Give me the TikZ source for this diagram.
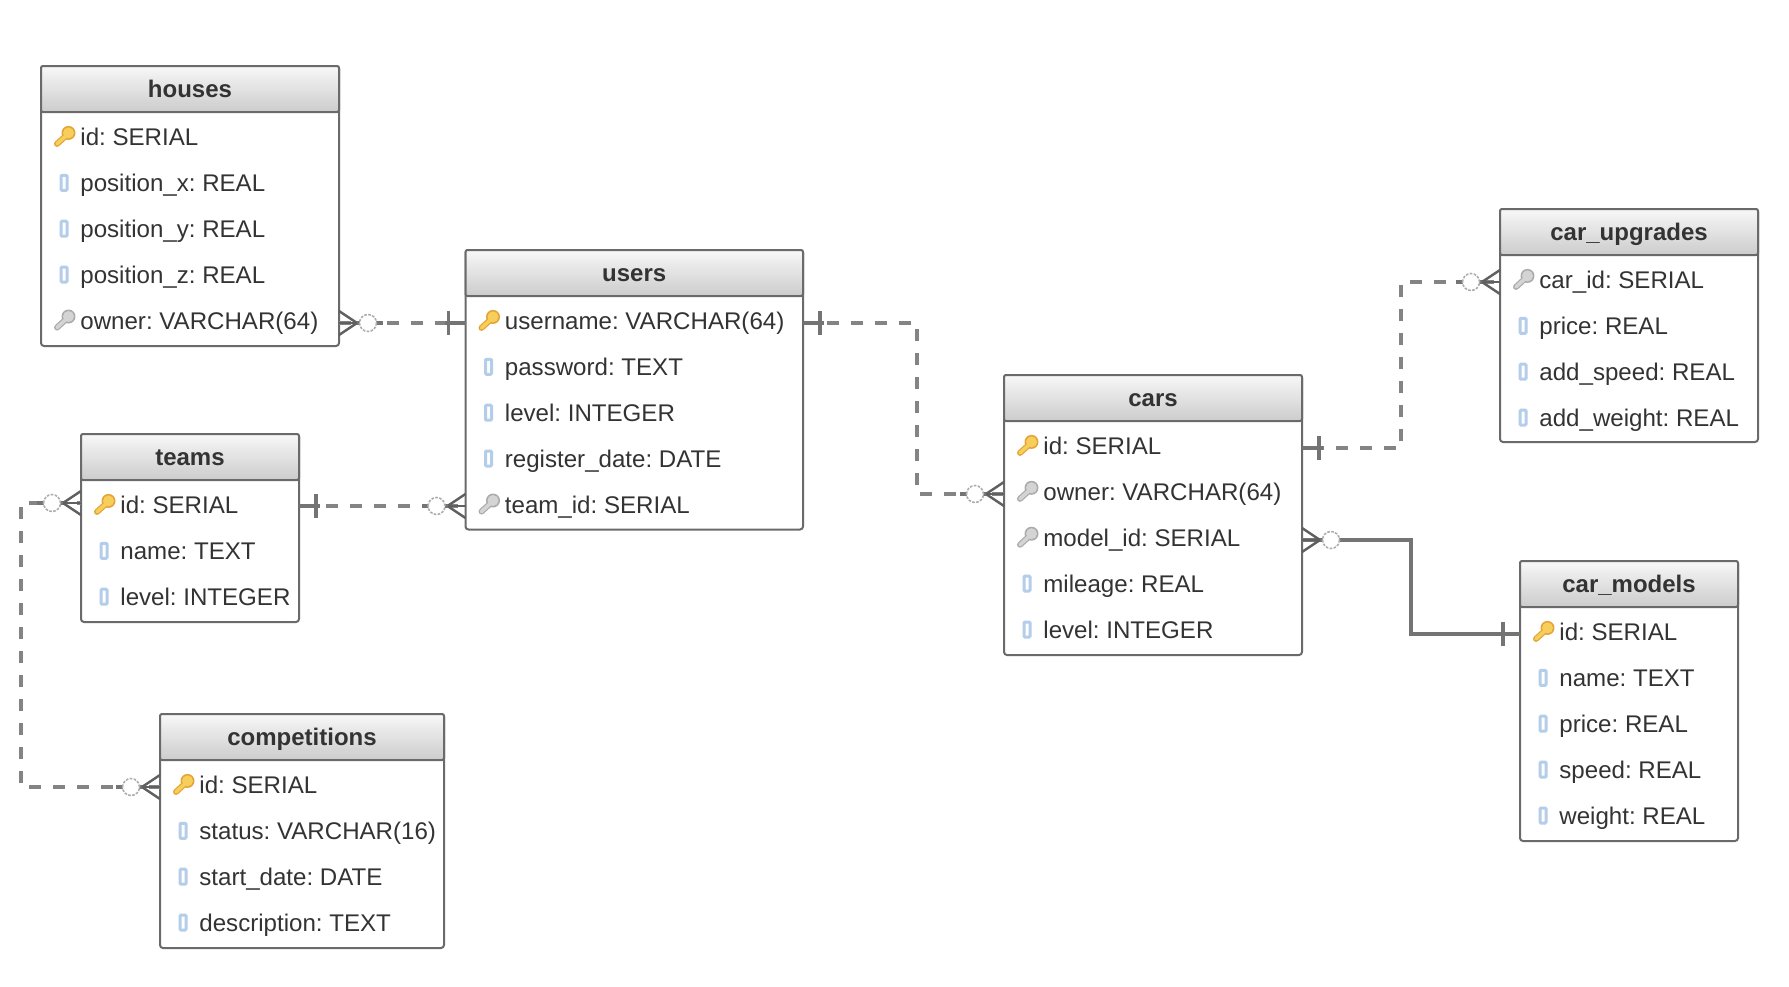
\documentclass[tikz,border=0pt]{standalone}
\usepackage{fontspec}
\setmainfont{Liberation Sans}
\frenchspacing
\definecolor{ink}{HTML}{333333}
\definecolor{edgec}{HTML}{6A6A6A}
\definecolor{linkc}{HTML}{848484}
\definecolor{endc}{HTML}{606060}
\definecolor{tickc}{HTML}{747474}
\definecolor{goldin}{HTML}{F7CE5A}
\definecolor{goldout}{HTML}{E3A437}
\definecolor{greyin}{HTML}{D4D4D4}
\definecolor{greyout}{HTML}{ABABAB}
\definecolor{colmark}{HTML}{B4CDEA}
\tikzset{
  x=0.5pt,y=-0.5pt,
  tablebox/.style={draw=edgec,line width=1pt,fill=white,rounded corners=1.5pt,inner sep=0pt,outer sep=0pt,anchor=north west},
  headbox/.style={draw=edgec,line width=1pt,top color=black!3,bottom color=black!20,rounded corners=1pt,inner sep=0pt,outer sep=0pt,anchor=north west},
  titletext/.style={font=\fontsize{12}{14}\selectfont\bfseries,text=ink,anchor=base,inner sep=0pt},
  rowtext/.style={font=\fontsize{12.05}{14}\selectfont,text=ink,anchor=base west,inner sep=0pt},
  dashlink/.style={draw=linkc,line width=1.7pt,dash pattern=on 6pt off 6pt},
  solidlink/.style={draw=tickc,line width=1.7pt},
  endline/.style={draw=endc,line width=1.2pt},
  tickline/.style={draw=tickc,line width=1.6pt},
  ringmark/.style={draw=black!32,fill=white,line width=0.8pt,dash pattern=on 1.3pt off 0.7pt},
  columnmark/.pic={
    \draw[draw=colmark,fill=white,line width=1.5pt,rounded corners=0.5pt] (-3,-7.5) rectangle (3,7.5);
  },
  goldkey/.pic={
    \draw[draw=goldout,line width=3pt,line cap=round] (4,-3) -- (-7,7);
    \fill[goldout] (4.5,-4) circle (7);
    \draw[draw=goldin,line width=1.8pt,line cap=round] (4,-3) -- (-7,7);
    \fill[goldin] (4.5,-4) circle (5.5);
  },
  greykey/.pic={
    \draw[draw=greyout,line width=3pt,line cap=round] (4,-3) -- (-7,7);
    \fill[greyout] (4.5,-4) circle (7);
    \draw[draw=greyin,line width=1.8pt,line cap=round] (4,-3) -- (-7,7);
    \fill[greyin] (4.5,-4) circle (5.5);
  },
  crowend/.pic={
    \draw[endline] (0,-12) -- (18,0) -- (0,12);
    \draw[endline] (0,0) -- (18,0);
    \draw[tickline] (18,0) -- (44,0);
    \draw[ringmark] (29,0) circle (8.5);
  },
  tickend/.pic={
    \draw[tickline] (0,0) -- (21,0);
    \draw[tickline] (17,-12) -- (17,12);
  },
}
% name, left, right, top, bottom, title, rows
\newcommand{\erdtable}[7]{
  \node[tablebox,minimum width=(#3-#2)*0.5pt,minimum height=(#5-#4)*0.5pt] (#1) at (#2,#4) {};
  \node[headbox,minimum width=(#3-#2)*0.5pt,minimum height=23pt] (#1-head) at (#2,#4) {};
  \node[titletext] (#1-title) at ({(#2+#3)/2},#4+31) {#6};
  \foreach \kind/\txt [count=\i] in {#7}{
    \node[rowtext] (#1-row\i) at (#2+39,#4+34+45.9*\i) {\txt};
    \pic at (#2+23,#4+25+45.9*\i) {\kind};
  }
}
\begin{document}
\begin{tikzpicture}
\path[fill=white,use as bounding box] (0,0) rectangle (1789,986);
\erdtable{houses}{41}{339}{66}{346}{houses}{goldkey/id: SERIAL,columnmark/position\_x: REAL,columnmark/position\_y: REAL,columnmark/position\_z: REAL,greykey/owner: VARCHAR(64)}
\erdtable{users}{465.5}{803}{250}{529.5}{users}{goldkey/username: VARCHAR(64),columnmark/password: TEXT,columnmark/level: INTEGER,columnmark/register\_date: DATE,greykey/team\_id: SERIAL}
\erdtable{teams}{81}{299}{434}{622}{teams}{goldkey/id: SERIAL,columnmark/name: TEXT,columnmark/level: INTEGER}
\erdtable{competitions}{160}{444}{714}{948}{competitions}{goldkey/id: SERIAL,columnmark/status: VARCHAR(16),columnmark/start\_date: DATE,columnmark/description: TEXT}
\erdtable{cars}{1004}{1302}{375}{655}{cars}{goldkey/id: SERIAL,greykey/owner: VARCHAR(64),greykey/model\_id: SERIAL,columnmark/mileage: REAL,columnmark/level: INTEGER}
\erdtable{upgrades}{1500}{1758}{209}{442}{car\_upgrades}{greykey/car\_id: SERIAL,columnmark/price: REAL,columnmark/add\_speed: REAL,columnmark/add\_weight: REAL}
\erdtable{models}{1520}{1738}{561}{841}{car\_models}{goldkey/id: SERIAL,columnmark/name: TEXT,columnmark/price: REAL,columnmark/speed: REAL,columnmark/weight: REAL}

\draw[dashlink] (houses.east |- 0,323) -- (users.west |- 0,323);
\draw[dashlink] (users.east |- 0,323) -- (917,323) -- (917,494) -- (cars.west |- 0,494);
\draw[dashlink,dash phase=10.5pt] (teams.east |- 0,506) -- (users.west |- 0,506);
\draw[dashlink,dash phase=4pt] (teams.west |- 0,503) -- (21,503) -- (21,787) -- (competitions.west |- 0,787);
\draw[dashlink,dash phase=7pt] (cars.east |- 0,448) -- (1401,448) -- (1401,282) -- (upgrades.west |- 0,282);
\draw[solidlink] (cars.east |- 0,540) -- (1411,540) -- (1411,634) -- (models.west |- 0,634);

\pic at (houses.east |- 0,323) {crowend};
\pic[rotate=180] at (users.west |- 0,323) {tickend};
\pic at (users.east |- 0,323) {tickend};
\pic[rotate=180] at (cars.west |- 0,494) {crowend};
\pic at (teams.east |- 0,506) {tickend};
\pic[rotate=180] at (users.west |- 0,506) {crowend};
\pic[rotate=180] at (teams.west |- 0,503) {crowend};
\pic[rotate=180] at (competitions.west |- 0,787) {crowend};
\pic at (cars.east |- 0,448) {tickend};
\pic[rotate=180] at (upgrades.west |- 0,282) {crowend};
\pic at (cars.east |- 0,540) {crowend};
\pic[rotate=180] at (models.west |- 0,634) {tickend};
\end{tikzpicture}
\end{document}
